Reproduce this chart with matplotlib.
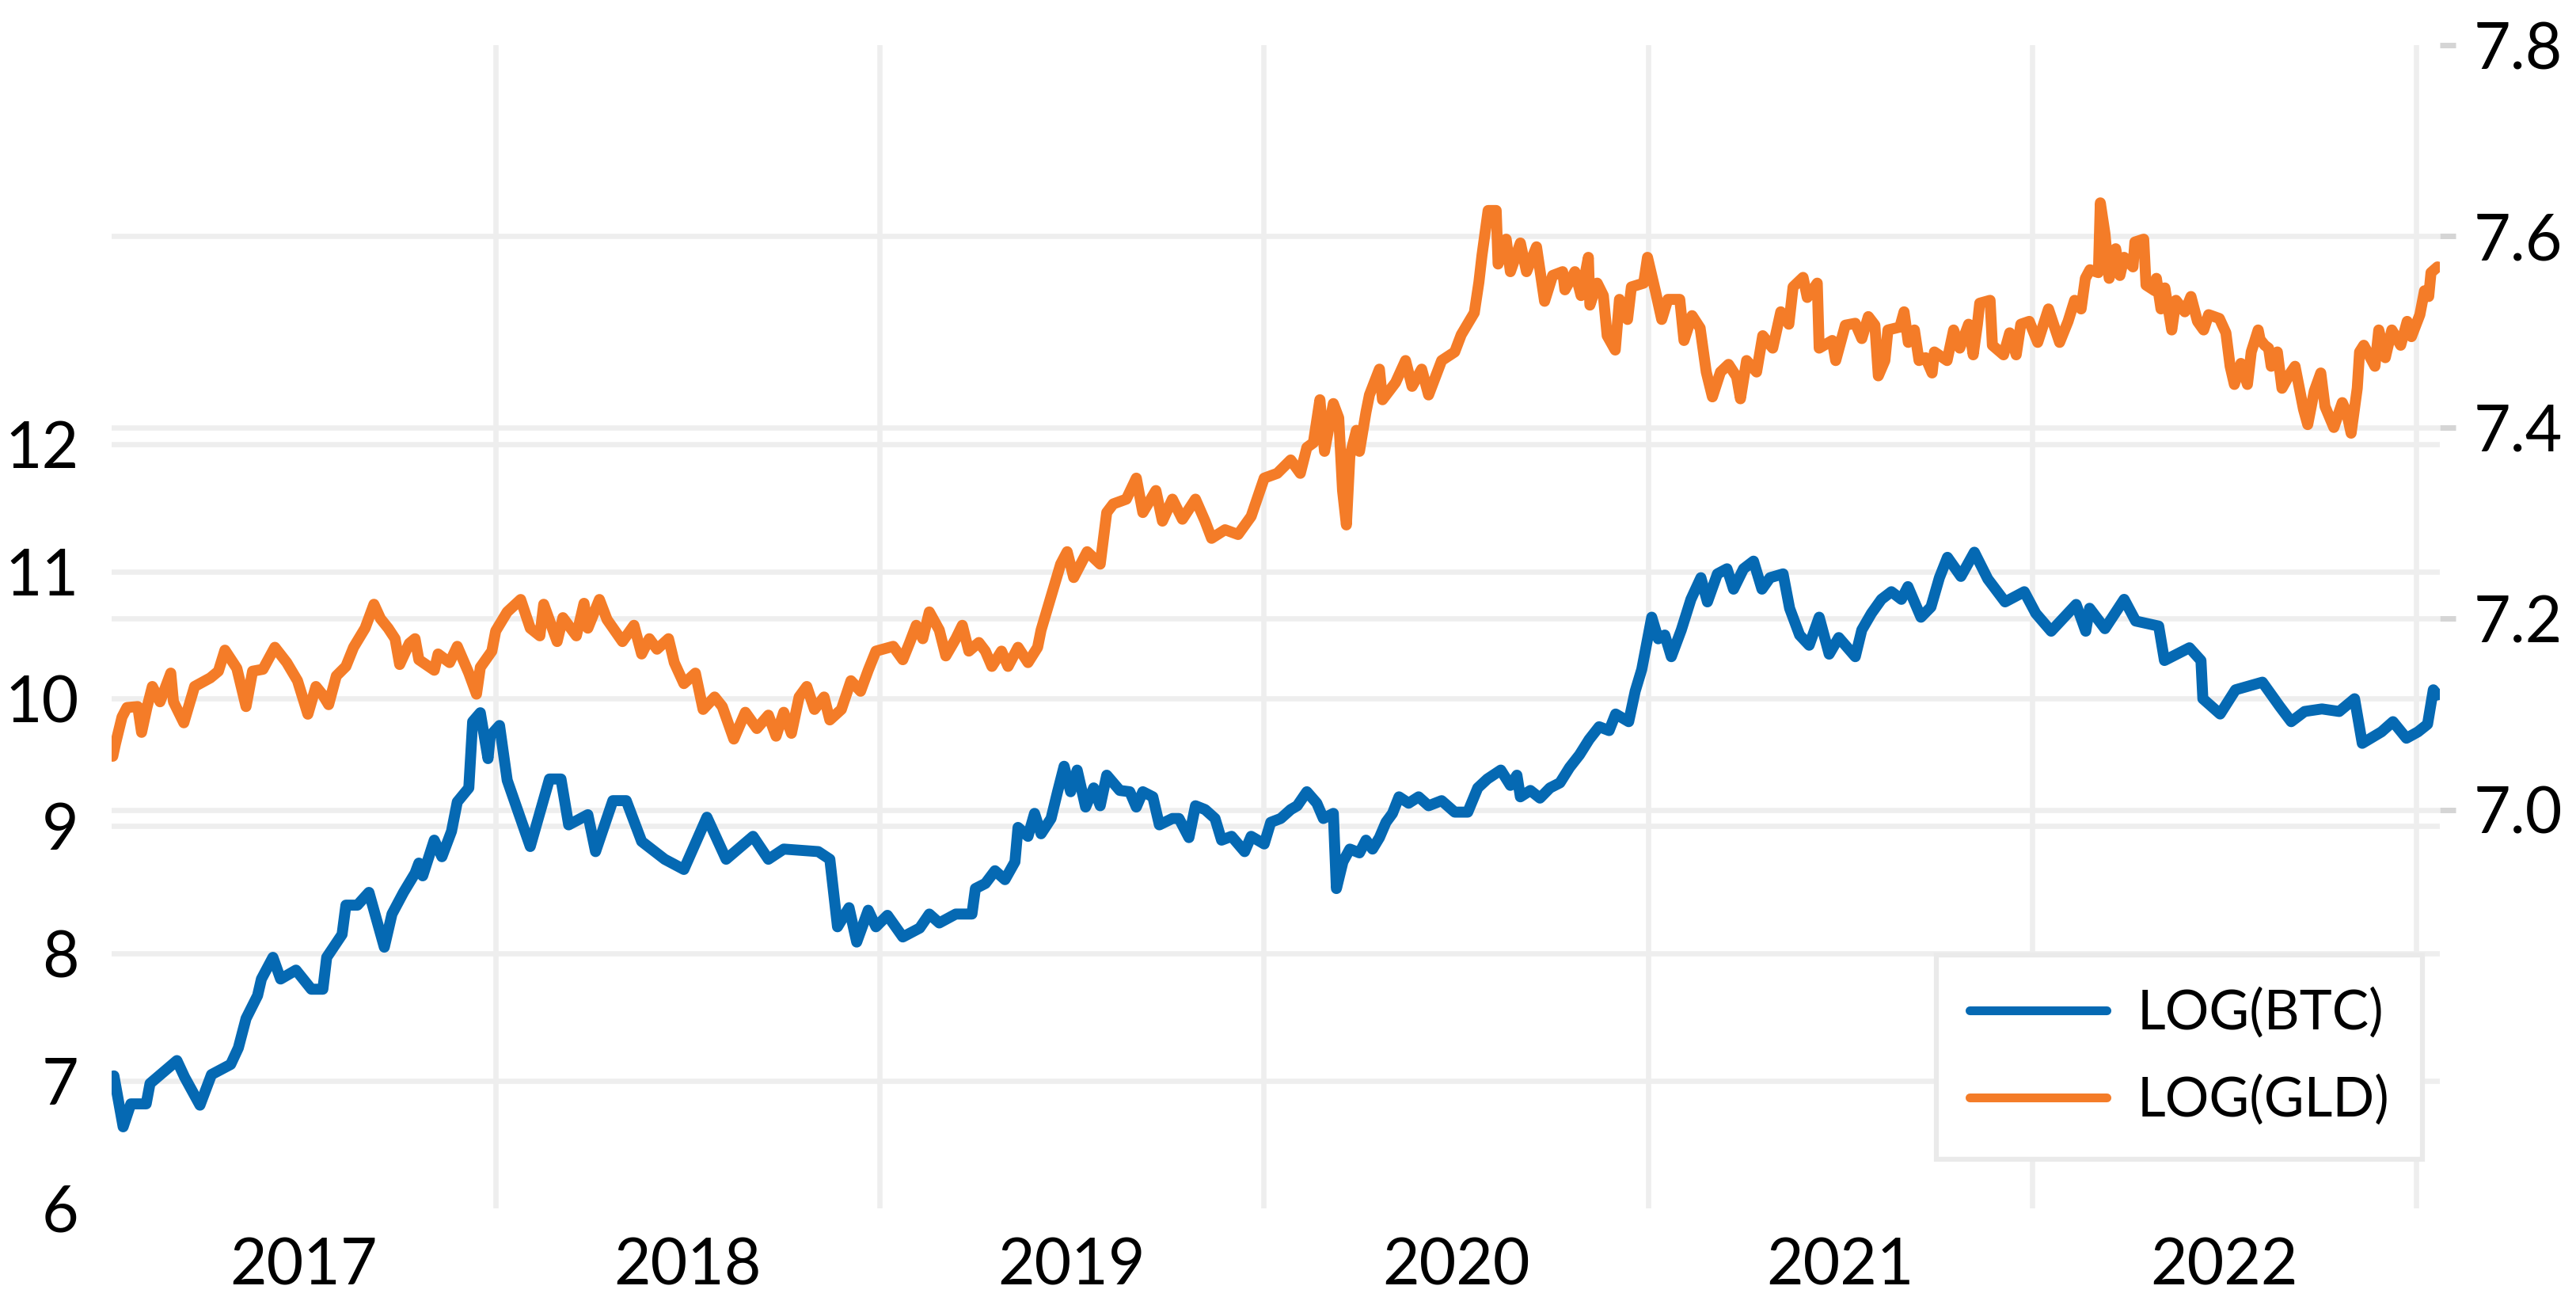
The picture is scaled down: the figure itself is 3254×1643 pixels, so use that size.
## Log BTC vs log gold, two y axes
import matplotlib
matplotlib.use("Agg")
import matplotlib.pyplot as plt
import matplotlib.transforms as mtransforms

## Data (fractional years, log values)
btc_t = [2017.006, 2017.03, 2017.05, 2017.09, 2017.10, 2017.17, 2017.19, 2017.23, 2017.26, 2017.31,
         2017.33, 2017.35, 2017.38, 2017.39, 2017.42, 2017.44, 2017.48, 2017.52, 2017.55, 2017.56,
         2017.60, 2017.61, 2017.64, 2017.67, 2017.71, 2017.73, 2017.76, 2017.79, 2017.80, 2017.81,
         2017.84, 2017.86, 2017.885, 2017.90, 2017.93, 2017.94, 2017.96, 2017.98, 2017.986, 2018.01,
         2018.03, 2018.09, 2018.14, 2018.17, 2018.19, 2018.24, 2018.26, 2018.305, 2018.34, 2018.38,
         2018.44, 2018.49, 2018.55, 2018.60, 2018.67, 2018.71, 2018.75, 2018.84, 2018.87, 2018.89,
         2018.92, 2018.94, 2018.97, 2018.99, 2019.02, 2019.06, 2019.104, 2019.129, 2019.155, 2019.198,
         2019.240, 2019.249, 2019.275, 2019.300, 2019.326, 2019.352, 2019.360, 2019.386, 2019.403, 2019.420,
         2019.446, 2019.463, 2019.480, 2019.497, 2019.514, 2019.536, 2019.557, 2019.574, 2019.591, 2019.608,
         2019.625, 2019.651, 2019.668, 2019.685, 2019.711, 2019.728, 2019.762, 2019.779, 2019.805, 2019.822,
         2019.847, 2019.873, 2019.890, 2019.916, 2019.950, 2019.967, 2020.001, 2020.018, 2020.044, 2020.070,
         2020.087, 2020.112, 2020.138, 2020.155, 2020.181, 2020.189, 2020.206, 2020.224, 2020.249, 2020.266,
         2020.283, 2020.301, 2020.318, 2020.335, 2020.352, 2020.377, 2020.403, 2020.429, 2020.463, 2020.497,
         2020.531, 2020.557, 2020.582, 2020.617, 2020.642, 2020.659, 2020.668, 2020.694, 2020.719, 2020.745,
         2020.771, 2020.796, 2020.822, 2020.847, 2020.873, 2020.899, 2020.916, 2020.950, 2020.967, 2020.984,
         2021.010, 2021.027, 2021.044, 2021.061, 2021.087, 2021.112, 2021.138, 2021.155, 2021.181, 2021.206,
         2021.223, 2021.249, 2021.275, 2021.297, 2021.318, 2021.352, 2021.369, 2021.395, 2021.420, 2021.446,
         2021.472, 2021.497, 2021.540, 2021.557, 2021.582, 2021.608, 2021.634, 2021.660, 2021.677, 2021.711,
         2021.737, 2021.759, 2021.78, 2021.815, 2021.85, 2021.885, 2021.93, 2021.98, 2022.01, 2022.05,
         2022.115, 2022.14, 2022.15, 2022.19, 2022.24, 2022.27, 2022.33, 2022.345, 2022.41, 2022.44,
         2022.445, 2022.49, 2022.53, 2022.60, 2022.645, 2022.675, 2022.71, 2022.755, 2022.80, 2022.84,
         2022.86, 2022.91, 2022.94, 2022.975, 2023.005, 2023.03, 2023.045, 2023.056]
btc_v = [7.04, 6.64, 6.82, 6.82, 6.98, 7.16, 7.03, 6.81, 7.05, 7.13,
         7.26, 7.49, 7.67, 7.80, 7.97, 7.80, 7.87, 7.72, 7.72, 7.97,
         8.15, 8.38, 8.38, 8.48, 8.05, 8.31, 8.48, 8.63, 8.71, 8.61,
         8.89, 8.76, 8.96, 9.19, 9.30, 9.82, 9.89, 9.53, 9.71, 9.79,
         9.36, 8.84, 9.37, 9.37, 9.01, 9.09, 8.80, 9.20, 9.20, 8.88,
         8.74, 8.66, 9.07, 8.74, 8.92, 8.74, 8.82, 8.80, 8.74, 8.21,
         8.36, 8.09, 8.34, 8.21, 8.30, 8.13, 8.20, 8.31, 8.24, 8.31,
         8.31, 8.51, 8.55, 8.65, 8.58, 8.72, 8.99, 8.92, 9.10, 8.94,
         9.06, 9.27, 9.47, 9.27, 9.44, 9.15, 9.30, 9.16, 9.40, 9.34,
         9.28, 9.27, 9.15, 9.27, 9.23, 9.01, 9.06, 9.06, 8.91, 9.16,
         9.13, 9.06, 8.89, 8.92, 8.80, 8.92, 8.86, 9.03, 9.06, 9.13,
         9.16, 9.27, 9.18, 9.06, 9.10, 8.51, 8.72, 8.82, 8.79, 8.89,
         8.82, 8.91, 9.03, 9.10, 9.23, 9.18, 9.23, 9.16, 9.20, 9.11,
         9.11, 9.30, 9.37, 9.44, 9.32, 9.40, 9.23, 9.28, 9.22, 9.30,
         9.34, 9.46, 9.56, 9.68, 9.78, 9.75, 9.88, 9.82, 10.06, 10.23,
         10.64, 10.47, 10.50, 10.33, 10.54, 10.78, 10.95, 10.76, 10.98, 11.02,
         10.86, 11.02, 11.08, 10.86, 10.95, 10.98, 10.71, 10.50, 10.42, 10.64,
         10.35, 10.48, 10.33, 10.54, 10.67, 10.78, 10.84, 10.78, 10.88, 10.64,
         10.72, 10.95, 11.11, 10.96, 11.15, 10.94, 10.76, 10.84, 10.67, 10.53,
         10.74, 10.53, 10.71, 10.55, 10.78, 10.61, 10.57, 10.30, 10.40, 10.30,
         10.00, 9.88, 10.07, 10.13, 9.94, 9.82, 9.90, 9.92, 9.90, 10.00,
         9.65, 9.74, 9.82, 9.69, 9.74, 9.80, 10.07, 10.03]

gld_t = [2017.003, 2017.010, 2017.027, 2017.040, 2017.068, 2017.078, 2017.092, 2017.106, 2017.126, 2017.154,
         2017.161, 2017.188, 2017.216, 2017.257, 2017.278, 2017.295, 2017.326, 2017.350, 2017.367, 2017.394,
         2017.425, 2017.456, 2017.484, 2017.511, 2017.532, 2017.550, 2017.565, 2017.585, 2017.610, 2017.630,
         2017.660, 2017.683, 2017.700, 2017.720, 2017.738, 2017.750, 2017.775, 2017.790, 2017.800, 2017.840,
         2017.850, 2017.880, 2017.900, 2017.930, 2017.950, 2017.960, 2017.990, 2018.000, 2018.030, 2018.065,
         2018.090, 2018.115, 2018.125, 2018.160, 2018.175, 2018.210, 2018.230, 2018.240, 2018.270, 2018.290,
         2018.330, 2018.360, 2018.380, 2018.400, 2018.420, 2018.450, 2018.465, 2018.490, 2018.520, 2018.540,
         2018.570, 2018.590, 2018.620, 2018.650, 2018.680, 2018.710, 2018.730, 2018.750, 2018.770, 2018.790,
         2018.810, 2018.830, 2018.855, 2018.870, 2018.900, 2018.925, 2018.950, 2018.970, 2018.990, 2019.035,
         2019.060, 2019.078, 2019.095, 2019.112, 2019.129, 2019.155, 2019.172, 2019.198, 2019.215, 2019.232,
         2019.258, 2019.275, 2019.292, 2019.317, 2019.334, 2019.360, 2019.386, 2019.411, 2019.420, 2019.437,
         2019.471, 2019.488, 2019.505, 2019.540, 2019.574, 2019.591, 2019.608, 2019.642, 2019.668, 2019.685,
         2019.719, 2019.736, 2019.762, 2019.788, 2019.822, 2019.847, 2019.864, 2019.899, 2019.933, 2019.967,
         2020.001, 2020.035, 2020.070, 2020.095, 2020.112, 2020.129, 2020.146, 2020.158, 2020.181, 2020.195,
         2020.205, 2020.215, 2020.224, 2020.241, 2020.249, 2020.266, 2020.275, 2020.301, 2020.309, 2020.343,
         2020.369, 2020.386, 2020.411, 2020.429, 2020.463, 2020.497, 2020.514, 2020.548, 2020.560, 2020.568,
         2020.584, 2020.605, 2020.610, 2020.631, 2020.642, 2020.668, 2020.684, 2020.710, 2020.731, 2020.752,
         2020.778, 2020.784, 2020.810, 2020.826, 2020.845, 2020.849, 2020.868, 2020.884, 2020.894, 2020.915,
         2020.926, 2020.947, 2020.957, 2020.989, 2020.999, 2021.020, 2021.036, 2021.052, 2021.083, 2021.094,
         2021.115, 2021.136, 2021.152, 2021.168, 2021.189, 2021.210, 2021.231, 2021.241, 2021.257, 2021.283,
         2021.299, 2021.325, 2021.346, 2021.367, 2021.378, 2021.404, 2021.415, 2021.441, 2021.446, 2021.480,
         2021.489, 2021.514, 2021.540, 2021.557, 2021.574, 2021.591, 2021.600, 2021.617, 2021.625, 2021.656,
         2021.667, 2021.678, 2021.694, 2021.706, 2021.723, 2021.740, 2021.746, 2021.779, 2021.796, 2021.812,
         2021.835, 2021.847, 2021.858, 2021.864, 2021.891, 2021.897, 2021.926, 2021.942, 2021.959, 2021.971,
         2021.993, 2022.015, 2022.043, 2022.072, 2022.094, 2022.111, 2022.128, 2022.139, 2022.151, 2022.173,
         2022.178, 2022.190, 2022.201, 2022.218, 2022.229, 2022.240, 2022.263, 2022.268, 2022.291, 2022.297,
         2022.320, 2022.324, 2022.336, 2022.346, 2022.364, 2022.375, 2022.398, 2022.414, 2022.431, 2022.447,
         2022.460, 2022.488, 2022.505, 2022.516, 2022.527, 2022.544, 2022.561, 2022.571, 2022.589, 2022.594,
         2022.606, 2022.616, 2022.623, 2022.639, 2022.651, 2022.673, 2022.685, 2022.707, 2022.718, 2022.735,
         2022.752, 2022.763, 2022.786, 2022.808, 2022.819, 2022.831, 2022.847, 2022.853, 2022.864, 2022.893,
         2022.903, 2022.920, 2022.937, 2022.960, 2022.977, 2022.988, 2023.010, 2023.022, 2023.033, 2023.039,
         2023.056]
gld_v = [7.056, 7.069, 7.097, 7.107, 7.108, 7.081, 7.107, 7.129, 7.113, 7.143,
         7.113, 7.091, 7.129, 7.138, 7.145, 7.167, 7.148, 7.108, 7.145, 7.147,
         7.170, 7.154, 7.135, 7.100, 7.129, 7.120, 7.110, 7.140, 7.150, 7.170,
         7.190, 7.215, 7.200, 7.190, 7.179, 7.152, 7.174, 7.179, 7.157, 7.146,
         7.163, 7.154, 7.171, 7.143, 7.121, 7.149, 7.166, 7.187, 7.207, 7.220,
         7.190, 7.182, 7.215, 7.176, 7.201, 7.182, 7.216, 7.190, 7.220, 7.199,
         7.176, 7.193, 7.163, 7.179, 7.168, 7.179, 7.154, 7.132, 7.143, 7.105,
         7.118, 7.108, 7.074, 7.102, 7.085, 7.099, 7.077, 7.102, 7.080, 7.118,
         7.129, 7.105, 7.118, 7.094, 7.105, 7.135, 7.124, 7.146, 7.166, 7.171,
         7.157, 7.175, 7.193, 7.179, 7.207, 7.188, 7.161, 7.179, 7.193, 7.166,
         7.175, 7.166, 7.150, 7.166, 7.150, 7.170, 7.154, 7.170, 7.188, 7.211,
         7.257, 7.270, 7.243, 7.270, 7.257, 7.311, 7.320, 7.325, 7.347, 7.311,
         7.334, 7.302, 7.325, 7.304, 7.325, 7.302, 7.284, 7.293, 7.288, 7.307,
         7.347, 7.352, 7.366, 7.352, 7.379, 7.384, 7.429, 7.375, 7.425, 7.410,
         7.334, 7.298, 7.370, 7.397, 7.375, 7.416, 7.434, 7.461, 7.429, 7.447,
         7.470, 7.443, 7.461, 7.434, 7.470, 7.479, 7.497, 7.520, 7.552, 7.580,
         7.627, 7.627, 7.571, 7.597, 7.563, 7.593, 7.563, 7.589, 7.532, 7.559,
         7.563, 7.544, 7.563, 7.538, 7.578, 7.528, 7.551, 7.538, 7.496, 7.481,
         7.534, 7.513, 7.547, 7.551, 7.578, 7.542, 7.513, 7.534, 7.534, 7.491,
         7.517, 7.504, 7.458, 7.432, 7.458, 7.466, 7.453, 7.430, 7.470, 7.458,
         7.496, 7.483, 7.521, 7.508, 7.547, 7.557, 7.536, 7.551, 7.483, 7.491,
         7.470, 7.507, 7.509, 7.493, 7.516, 7.507, 7.454, 7.470, 7.502, 7.505,
         7.521, 7.489, 7.502, 7.470, 7.473, 7.457, 7.479, 7.470, 7.502, 7.483,
         7.508, 7.476, 7.508, 7.530, 7.533, 7.486, 7.476, 7.499, 7.476, 7.508,
         7.511, 7.489, 7.524, 7.489, 7.511, 7.533, 7.524, 7.556, 7.565, 7.562,
         7.635, 7.603, 7.556, 7.587, 7.559, 7.578, 7.568, 7.594, 7.597, 7.549,
         7.543, 7.556, 7.524, 7.546, 7.502, 7.533, 7.521, 7.537, 7.511, 7.502,
         7.518, 7.514, 7.499, 7.464, 7.445, 7.467, 7.445, 7.479, 7.502, 7.492,
         7.486, 7.483, 7.464, 7.479, 7.441, 7.457, 7.464, 7.419, 7.403, 7.438,
         7.457, 7.422, 7.400, 7.426, 7.416, 7.394, 7.441, 7.479, 7.486, 7.464,
         7.502, 7.473, 7.502, 7.486, 7.511, 7.495, 7.518, 7.543, 7.537, 7.562,
         7.568]

years = [2017, 2018, 2019, 2020, 2021, 2022]
year_edges = [2018, 2019, 2020, 2021, 2022, 2023]
left_ticks = [6, 7, 8, 9, 10, 11, 12]
right_ticks = [7.0, 7.2, 7.4, 7.6, 7.8]

azul = "#0569B3"
naranja = "#F47C28"
gris = "#EEEEEE"

plt.rcParams["font.family"] = ["Lato", "DejaVu Sans"]

fig = plt.figure(figsize=(32.55, 16.43), dpi=100)
ax = fig.add_axes([141 / 3255, 1 - 1526 / 1643, (3082 - 141) / 3255, (1526 - 57) / 1643])
ax2 = ax.twinx()

## Series
l1, = ax.plot(btc_t, btc_v, color=azul, lw=10, solid_joinstyle="round",
              solid_capstyle="round", label="LOG(BTC)", zorder=3)
l2, = ax2.plot(gld_t, gld_v, color=naranja, lw=10, solid_joinstyle="round",
               solid_capstyle="round", label="LOG(GLD)", zorder=3)

## Axes limits
ax.set_xlim(2017.0, 2023.062)
ax.set_ylim(6, 15.13)
ax2.set_ylim(6.583, 7.8)

## x axis: gridlines at year edges, labels in the middle of each year
ax.set_xticks(year_edges)
ax.set_xticklabels([])
ax.set_xticks([y + 0.5 for y in years], minor=True)
ax.set_xticklabels([str(y) for y in years], minor=True)
ax.tick_params(axis="x", which="both", length=0, labelsize=58, pad=26)

## y axes
ax.set_yticks(left_ticks)
ax.set_yticklabels([str(v) for v in left_ticks])
ax.tick_params(axis="y", length=0, labelsize=58, pad=30)
ax2.set_yticks(right_ticks)
ax2.set_yticklabels(["%.1f" % v for v in right_ticks])
ax2.tick_params(axis="y", length=14.5, width=5, color="#D5D5D5", labelsize=58, pad=16)

## Gridlines (all drawn under the lines)
ax.set_axisbelow(True)
ax.grid(axis="x", which="major", color=gris, lw=4.7)
ax.grid(axis="y", color=gris, lw=4.7)
ax.get_ygridlines()[0].set_visible(False)
trans = mtransforms.blended_transform_factory(ax.transAxes, ax2.transData)
for v in right_ticks[:-1]:
    ax.plot([0, 1], [v, v], transform=trans, color=gris, lw=4.7, zorder=0.5)

for a in (ax, ax2):
    for s in a.spines.values():
        s.set_visible(False)

## Legend
leg = ax2.legend([l1, l2], ["LOG(BTC)", "LOG(GLD)"], loc="upper left",
                 bbox_to_anchor=(0.7838, 0.2178), fontsize=50, frameon=True,
                 fancybox=False, framealpha=1, edgecolor="#EAEAEA",
                 handlelength=2.5, handletextpad=0.55, borderpad=0.6,
                 labelspacing=0.65, borderaxespad=0)
leg.get_frame().set_linewidth(4.5)
for h in leg.get_lines():
    h.set_linewidth(8)

fig.savefig("out.png", dpi=100, facecolor="white")
